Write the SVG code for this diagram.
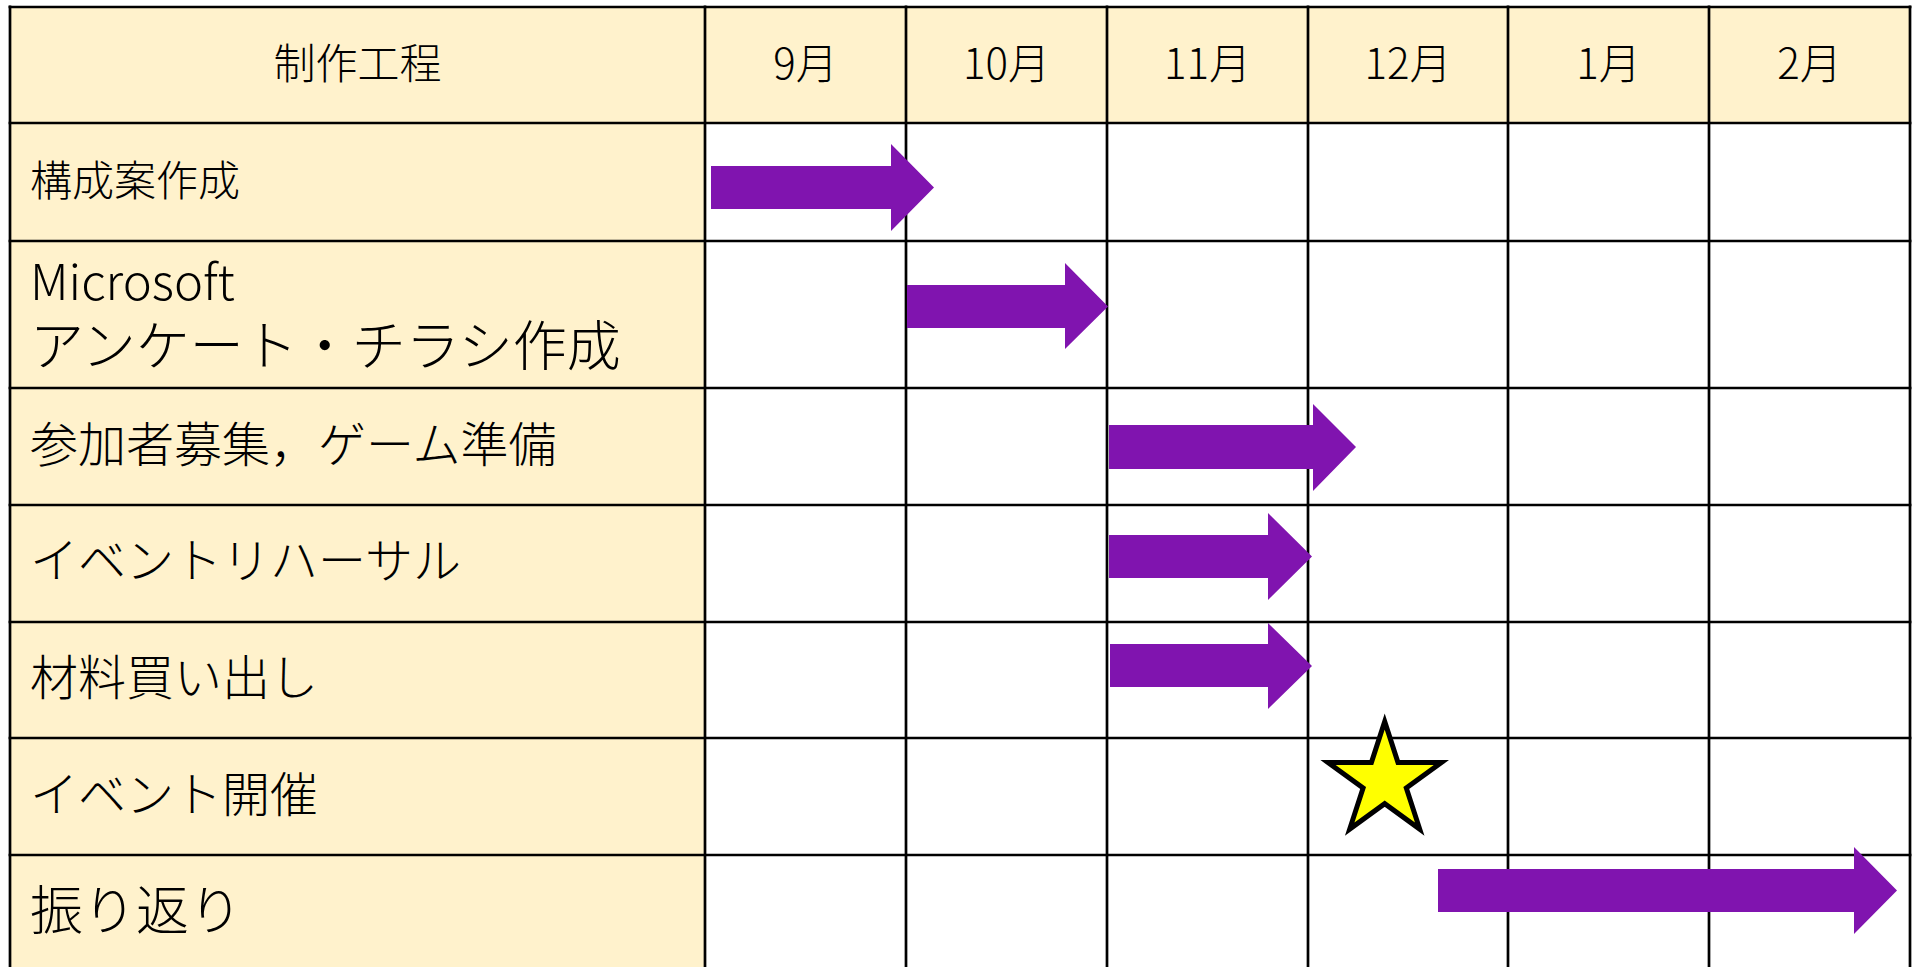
<svg xmlns="http://www.w3.org/2000/svg" width="1917" height="967" viewBox="0 0 1917 967">
<style>
.bg{fill:#FFF2CC}
.grid line{stroke:#000;stroke-width:2.7}
text{font-family:"Noto Sans CJK JP","Noto Sans",sans-serif;font-weight:300;fill:#000;dominant-baseline:central}
.hd{font-size:42px;text-anchor:middle}
.bar{fill:#8014AF}
</style>
<rect x="0" y="0" width="1917" height="967" fill="#fff"/>
<g id="backgrounds">
<rect class="bg" x="10" y="7" width="1900" height="116"/>
<rect class="bg" x="10" y="123" width="695" height="850"/>
</g>
<g id="header">
<text class="hd" x="357.5" y="60.5">制作工程</text>
<text class="hd" x="805.5" y="60.5">9月</text>
<text class="hd" x="1006.5" y="60.5">10月</text>
<text class="hd" x="1207.5" y="60.5">11月</text>
<text class="hd" x="1408" y="60.5">12月</text>
<text class="hd" x="1608.5" y="60.5">1月</text>
<text class="hd" x="1809.5" y="60.5">2月</text>
</g>
<g id="row-koseian"><text x="30" y="177" font-size="42">構成案作成</text></g>
<g id="row-enquete">
<text x="30" y="278" font-size="49">Microsoft</text>
<text x="30" y="342" font-size="54">アンケート・チラシ作成</text>
</g>
<g id="row-boshu"><text x="30" y="441" font-size="48">参加者募集，ゲーム準備</text></g>
<g id="row-rehearsal"><text x="30" y="557" font-size="48">イベントリハーサル</text></g>
<g id="row-kaidashi"><text x="30" y="674" font-size="48">材料買い出し</text></g>
<g id="row-kaisai"><text x="30" y="791" font-size="48">イベント開催</text></g>
<g id="row-furikaeri"><text x="30" y="907" font-size="53">振り返り</text></g>
<g class="grid" id="grid">
<line x1="10" y1="5.6" x2="10" y2="975"/>
<line x1="705" y1="5.6" x2="705" y2="975"/>
<line x1="906" y1="5.6" x2="906" y2="975"/>
<line x1="1107" y1="5.6" x2="1107" y2="975"/>
<line x1="1308" y1="5.6" x2="1308" y2="975"/>
<line x1="1508" y1="5.6" x2="1508" y2="975"/>
<line x1="1709" y1="5.6" x2="1709" y2="975"/>
<line x1="1910" y1="5.6" x2="1910" y2="975"/>
<line x1="8.6" y1="7" x2="1911.4" y2="7"/>
<line x1="8.6" y1="123" x2="1911.4" y2="123"/>
<line x1="8.6" y1="241" x2="1911.4" y2="241"/>
<line x1="8.6" y1="388" x2="1911.4" y2="388"/>
<line x1="8.6" y1="505" x2="1911.4" y2="505"/>
<line x1="8.6" y1="622" x2="1911.4" y2="622"/>
<line x1="8.6" y1="738" x2="1911.4" y2="738"/>
<line x1="8.6" y1="855" x2="1911.4" y2="855"/>
</g>
<g id="connectors">
<path class="bar" d="M711 166H891V144L934 187.5L891 231V209H711Z"/>
<path class="bar" d="M907 285H1065V263L1108 306.5L1065 349V328H907Z"/>
<path class="bar" d="M1109 425H1313V404L1356 447L1313 491V469H1109Z"/>
<path class="bar" d="M1109 535H1268V513L1312 556.5L1268 600V578H1109Z"/>
<path class="bar" d="M1110 644H1268V623L1312 666L1268 709V687H1110Z"/>
<path class="bar" d="M1438 869H1854V847L1897 890.5L1854 934V912H1438Z"/>
</g>
<g id="star-event">
<polygon points="1384.7,721.5 1398,762.6 1441.3,762.6 1406.3,788 1419.7,829.1 1384.7,803.7 1349.7,829.1 1363.1,788 1328.1,762.6 1371.4,762.6" fill="#FFFF00" stroke="#000" stroke-width="5" stroke-linejoin="miter"/>
</g>
</svg>
